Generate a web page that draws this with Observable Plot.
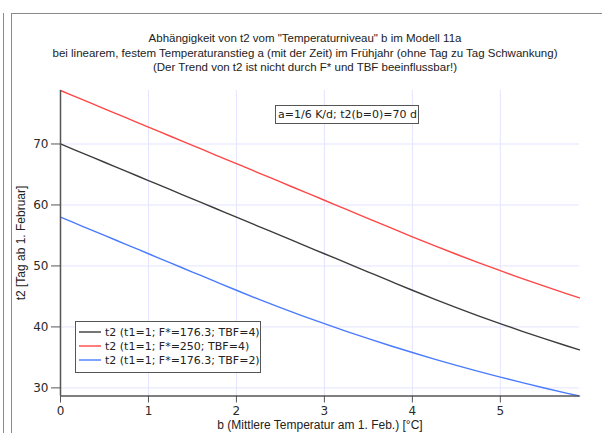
<!DOCTYPE html>
<html><head><meta charset="utf-8">
<script src="https://cdn.jsdelivr.net/npm/d3@7"></script>
<script src="https://cdn.jsdelivr.net/npm/@observablehq/plot@0.6"></script>
<style>
html,body{margin:0;padding:0;background:#fff;overflow:hidden}
#wrap{position:relative;width:602px;height:433px;overflow:hidden;background:#fff}
.abs{position:absolute}
#sideline{left:3px;top:13px;width:1px;height:430px;border-left:1.5px solid #8a8a8a}
#box{left:11px;top:13px;width:620px;height:440px;border-left:1.5px solid #8a8a8a;border-top:1.5px solid #8a8a8a}
#title{left:4px;top:31px;width:602px;text-align:center;font-family:"Liberation Sans",Arial,sans-serif;font-size:11.5px;line-height:14.5px;color:#222}
#ylabel{left:21px;top:243px;transform:translate(-50%,-50%) rotate(-90deg);white-space:nowrap;font-family:"Liberation Sans",Arial,sans-serif;font-size:12px;color:#222}
#xlabel{left:320px;top:419px;line-height:13px;transform:translateX(-50%);white-space:nowrap;font-family:"Liberation Sans",Arial,sans-serif;font-size:12px;color:#222}
#legend{left:75px;top:321px;width:184px;height:47px;border:1px solid #555;background:#fff;font-family:"DejaVu Sans",sans-serif;font-size:11px;color:#222;padding-top:3px;box-sizing:content-box}
.row{display:flex;align-items:center;height:14px}
.row svg{margin-left:3px;margin-right:4px}
#note{left:275px;top:105px;width:140px;height:17px;border:1px solid #555;background:#fff;font-family:"DejaVu Sans",sans-serif;font-size:11px;line-height:17px;color:#222;padding-left:2px}
#plot{left:0;top:0}
</style></head><body><div id="wrap"></div>
<script>
const titleLines = [
  'Abhängigkeit von t2 vom "Temperaturniveau" b im Modell 11a',
  'bei linearem, festem Temperaturanstieg a (mit der Zeit) im Frühjahr (ohne Tag zu Tag Schwankung)',
  '(Der Trend von t2 ist nicht durch F* und TBF beeinflussbar!)'
];
const xLabel = "b (Mittlere Temperatur am 1. Feb.) [°C]";
const yLabel = "t2 [Tag ab 1. Februar]";
const noteText = "a=1/6 K/d; t2(b=0)=70 d";
const seriesNames = [
  "t2 (t1=1; F*=176.3; TBF=4)",
  "t2 (t1=1; F*=250; TBF=4)",
  "t2 (t1=1; F*=176.3; TBF=2)"
];
const xTicks = [0, 1, 2, 3, 4, 5];
const yTicks = [30, 40, 50, 60, 70];
const bValues = [0, 0.25, 0.5, 0.75, 1, 1.25, 1.5, 1.75, 2, 2.25, 2.5, 2.75, 3, 3.25, 3.5, 3.75, 4, 4.25, 4.5, 4.75, 5, 5.25, 5.5, 5.75, 5.9];
const t2Black = [70.00, 68.50, 67.00, 65.50, 64.00, 62.50, 61.00, 59.50, 58.00, 56.50, 55.00, 53.50, 52.00, 50.50, 49.00, 47.50, 46.01, 44.56, 43.17, 41.82, 40.53, 39.27, 38.07, 36.91, 36.24];
const t2Red = [78.77, 77.27, 75.77, 74.27, 72.77, 71.27, 69.77, 68.27, 66.77, 65.27, 63.77, 62.27, 60.77, 59.27, 57.77, 56.27, 54.78, 53.33, 51.92, 50.55, 49.22, 47.93, 46.68, 45.47, 44.76];
const t2Blue = [58.00, 56.50, 55.00, 53.50, 52.00, 50.50, 49.00, 47.50, 46.01, 44.56, 43.17, 41.82, 40.53, 39.27, 38.07, 36.91, 35.80, 34.73, 33.70, 32.71, 31.77, 30.86, 29.99, 29.15, 28.67];

const seriesValues = [t2Black, t2Red, t2Blue];
const colors = ["#3c3c3c", "#ff4646", "#4a7bff"];

const data = [];
seriesNames.forEach((name, i) => bValues.forEach((bv, j) => data.push({b: bv, t2: seriesValues[i][j], series: name})));
const xDomain = d3.extent(bValues);
const yDomain = d3.extent(data, d => d.t2);

const wrap = document.getElementById("wrap");

const chart = Plot.plot({
  width: 602, height: 433,
  marginLeft: 60, marginRight: 23, marginTop: 90, marginBottom: 37.5,
  x: {domain: xDomain},
  y: {domain: yDomain},
  color: {domain: seriesNames, range: colors},
  style: {fontFamily: "'DejaVu Sans', sans-serif", fontSize: "12px", color: "#2a2a2a", background: "transparent", overflow: "visible"},
  marks: [
    Plot.gridX(xTicks, {stroke: "#e4e4ff", strokeOpacity: 1}),
    Plot.gridY(yTicks, {stroke: "#e4e4ff", strokeOpacity: 1}),
    Plot.line(data, {x: "b", y: "t2", z: "series", stroke: "series", strokeWidth: 1.4, curve: "monotone-x"}),
    Plot.ruleX([xDomain[0]], {stroke: "#555", strokeWidth: 1.5}),
    Plot.ruleY([yDomain[0]], {stroke: "#555", strokeWidth: 1.5}),
    Plot.axisX(xTicks, {tickSize: 7, tickPadding: 3, label: null, stroke: "#555"}),
    Plot.axisY(yTicks, {tickSize: 9, tickPadding: 3, label: null, stroke: "#555"})
  ]
});
chart.classList.add("abs");
chart.id = "plot";

function addDiv(id, html) {
  const d = document.createElement("div");
  d.className = "abs"; d.id = id;
  if (html !== undefined) d.innerHTML = html;
  wrap.appendChild(d);
  return d;
}
addDiv("sideline");
addDiv("box");
wrap.appendChild(chart);
const t = addDiv("title");
titleLines.forEach(l => { const p = document.createElement("div"); p.textContent = l; t.appendChild(p); });
addDiv("ylabel").textContent = yLabel;
addDiv("xlabel").textContent = xLabel;
addDiv("note").textContent = noteText;
const lg = addDiv("legend");
seriesNames.forEach((name, i) => {
  const r = document.createElement("div"); r.className = "row";
  r.innerHTML = `<svg width="22" height="4"><line x1="0" x2="22" y1="2" y2="2" stroke="${colors[i]}" stroke-width="1.4"/></svg>`;
  const s = document.createElement("span"); s.textContent = name; r.appendChild(s);
  lg.appendChild(r);
});
</script></body></html>
